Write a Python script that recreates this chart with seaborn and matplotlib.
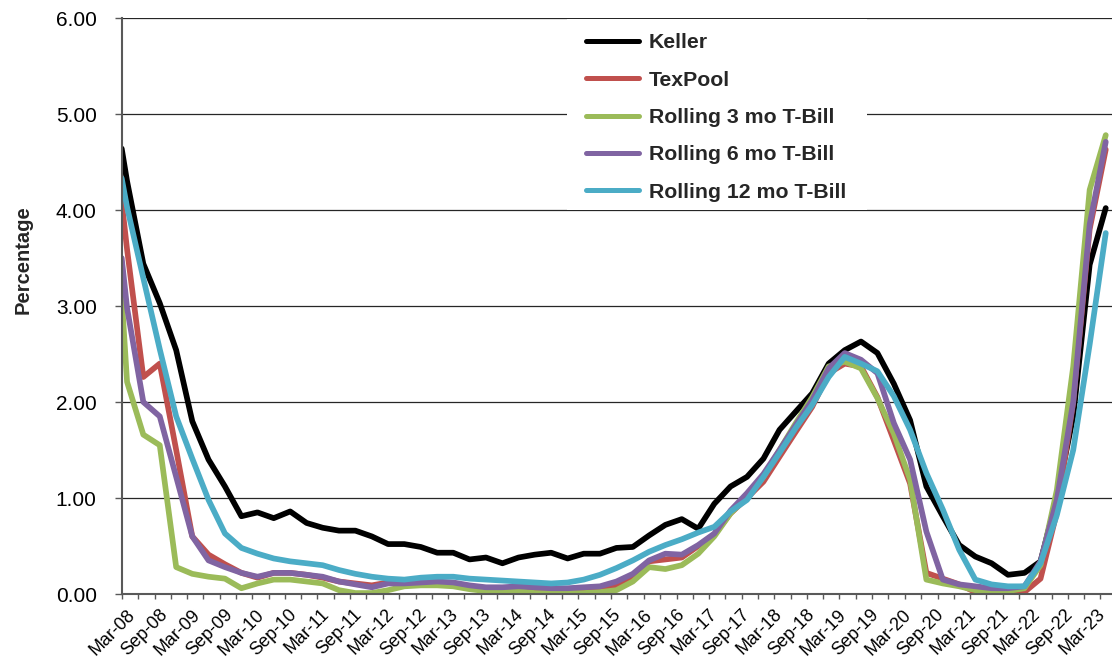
import matplotlib
matplotlib.use("Agg")
import matplotlib.pyplot as plt
import matplotlib.dates as mdates
import matplotlib.transforms as mtransforms
from matplotlib.patches import Rectangle
import numpy as np
import pandas as pd
import seaborn as sns

# Yield comparison, percent. First value is the level at the start of the axis
# (1 Mar 2008); the rest are quarter-end values, Mar-08 through Mar-23.
series_names = ["Keller", "TexPool", "Rolling 3 mo T-Bill",
                "Rolling 6 mo T-Bill", "Rolling 12 mo T-Bill"]
series_colors = ["#000000", "#C0504D", "#9BBB59", "#8064A2", "#4BACC6"]

keller = [4.64, 4.30, 3.44, 3.03, 2.54, 1.80, 1.40, 1.12, 0.81, 0.85, 0.79,
          0.86, 0.74, 0.69, 0.66, 0.66, 0.60, 0.52, 0.52, 0.49, 0.43, 0.43,
          0.36, 0.38, 0.32, 0.38, 0.41, 0.43, 0.37, 0.42, 0.42, 0.48, 0.49,
          0.61, 0.72, 0.78, 0.68, 0.94, 1.12, 1.22, 1.41, 1.71, 1.90, 2.09,
          2.40, 2.54, 2.63, 2.51, 2.19, 1.81, 1.12, 0.81, 0.51, 0.39, 0.32,
          0.20, 0.22, 0.34, 1.00, 1.85, 3.43, 4.02]
texpool = [4.09, 3.59, 2.26, 2.40, 1.50, 0.60, 0.41, 0.31, 0.22, 0.17, 0.22,
           0.22, 0.20, 0.17, 0.13, 0.11, 0.09, 0.12, 0.12, 0.12, 0.12, 0.11,
           0.08, 0.05, 0.04, 0.04, 0.02, 0.02, 0.02, 0.03, 0.04, 0.09, 0.17,
           0.34, 0.36, 0.38, 0.50, 0.62, 0.84, 1.00, 1.17, 1.43, 1.69, 1.95,
           2.30, 2.40, 2.37, 2.05, 1.60, 1.15, 0.22, 0.16, 0.10, 0.02, 0.00,
           0.01, 0.02, 0.16, 0.85, 2.00, 3.80, 4.63]
tbill_3mo = [3.10, 2.21, 1.66, 1.55, 0.28, 0.21, 0.18, 0.16, 0.06, 0.11, 0.15,
             0.15, 0.13, 0.11, 0.04, 0.01, 0.01, 0.04, 0.08, 0.09, 0.09, 0.08,
             0.05, 0.03, 0.03, 0.03, 0.01, 0.01, 0.01, 0.01, 0.02, 0.04, 0.13,
             0.28, 0.26, 0.30, 0.42, 0.60, 0.84, 1.01, 1.22, 1.50, 1.78, 2.05,
             2.37, 2.42, 2.35, 2.04, 1.67, 1.19, 0.15, 0.11, 0.08, 0.04, 0.02,
             0.03, 0.06, 0.30, 1.08, 2.37, 4.21, 4.78]
tbill_6mo = [3.50, 2.98, 2.00, 1.85, 1.22, 0.60, 0.35, 0.28, 0.22, 0.18, 0.22,
             0.22, 0.20, 0.18, 0.13, 0.10, 0.07, 0.11, 0.11, 0.12, 0.13, 0.12,
             0.09, 0.07, 0.07, 0.08, 0.07, 0.06, 0.06, 0.07, 0.08, 0.13, 0.21,
             0.35, 0.42, 0.41, 0.51, 0.63, 0.87, 1.05, 1.25, 1.50, 1.76, 2.02,
             2.35, 2.51, 2.44, 2.30, 1.78, 1.40, 0.65, 0.15, 0.10, 0.08, 0.06,
             0.06, 0.08, 0.34, 0.98, 2.00, 3.85, 4.71]
tbill_12mo = [4.33, 4.03, 3.29, 2.55, 1.85, 1.41, 0.98, 0.63, 0.48, 0.42, 0.37,
              0.34, 0.32, 0.30, 0.25, 0.21, 0.18, 0.16, 0.15, 0.17, 0.18, 0.18,
              0.16, 0.15, 0.14, 0.13, 0.12, 0.11, 0.12, 0.15, 0.20, 0.27, 0.35,
              0.44, 0.51, 0.57, 0.64, 0.70, 0.86, 0.98, 1.22, 1.47, 1.73, 1.97,
              2.26, 2.47, 2.40, 2.32, 2.06, 1.71, 1.26, 0.88, 0.46, 0.15, 0.10,
              0.08, 0.08, 0.32, 0.82, 1.50, 2.60, 3.76]

y_ticks = [0, 1, 2, 3, 4, 5, 6]

axis_start = pd.Timestamp("2008-03-01")
axis_end = pd.Timestamp("2023-05-05")
quarter_ends = list(pd.period_range("2008Q1", "2023Q1", freq="Q").end_time.normalize())
dates = [axis_start] + quarter_ends

frames = []
for name, vals in zip(series_names, [keller, texpool, tbill_3mo, tbill_6mo, tbill_12mo]):
    frames.append(pd.DataFrame({"date": dates, "value": vals, "series": name}))
df = pd.concat(frames, ignore_index=True)

sns.set_style("white")
plt.rcParams["font.family"] = ["Liberation Sans", "DejaVu Sans"]

W, H = 1112, 664
fig = plt.figure(figsize=(W / 100, H / 100), dpi=100)
ax = fig.add_axes([121.7 / W, 1 - 594 / H, 990.3 / W, 576 / H])

sns.lineplot(data=df, x="date", y="value", hue="series", hue_order=series_names,
             palette=series_colors, linewidth=4.1, estimator=None, sort=False,
             legend=False, ax=ax)
for ln in ax.lines:
    ln.set_solid_capstyle("round")
    ln.set_solid_joinstyle("round")

ax.set_xlim(axis_start, axis_end)
ax.set_ylim(0, 6)

ax.tick_params(axis="x", direction="out", length=3.8, width=1.0, color="#595959", pad=2,
               bottom=True)
ax.tick_params(axis="y", direction="out", length=5, width=1.0, color="#595959", pad=13,
               left=True)

# quarterly tick marks, labels every six months
n_ticks = 61
tick_dates = [pd.Timestamp(2008 + (2 + 3 * i) // 12, (2 + 3 * i) % 12 + 1, 1) for i in range(n_ticks)]
tick_labels = [d.strftime("%b-%y") if i % 2 == 0 else "" for i, d in enumerate(tick_dates)]
ax.set_xticks(mdates.date2num(tick_dates))
ax.set_xticklabels(tick_labels, fontsize=13, color="#000000")
ax.set_yticks(y_ticks)
ax.set_yticklabels([f"{v:.2f}" for v in y_ticks], fontsize=15, color="#000000")

for i, lbl in enumerate(ax.get_xticklabels()):
    dx = 17 - 9 * i / (n_ticks - 1)
    shift = mtransforms.ScaledTranslation(dx / 100, -4 / 100, fig.dpi_scale_trans)
    lbl.set_rotation(45)
    lbl.set_rotation_mode("default")
    lbl.set_horizontalalignment("right")
    lbl.set_verticalalignment("top")
    lbl.set_transform(lbl.get_transform() + shift)

ax.set_xlabel("")
ax.set_ylabel("Percentage", fontsize=14.5, fontweight="bold")
ax.yaxis.set_label_coords(-0.0896, (594 - 260) / 576)

for side in ["top", "right"]:
    ax.spines[side].set_visible(False)
for side in ["left", "bottom"]:
    ax.spines[side].set_color("#595959")
    ax.spines[side].set_linewidth(1.5)

ax.yaxis.grid(True, color="#262626", linewidth=0.9)
ax.xaxis.grid(False)
ax.set_axisbelow(True)

# white panel behind the legend
ax.add_patch(Rectangle((567 / W, 1 - 210 / H), 300 / W, 191 / H,
                       transform=fig.transFigure, facecolor="white",
                       edgecolor="none", zorder=1))

leg = ax.legend(ax.lines[:5], series_names, loc="upper left",
                bbox_to_anchor=(577.6 / W, 1 - 25 / H), bbox_transform=fig.transFigure,
                frameon=False, prop={"weight": "bold", "size": 15.3},
                handlelength=2.5, handletextpad=0.45, labelspacing=0.86,
                borderpad=0.4, borderaxespad=0)
for h in leg.get_lines():
    h.set_linewidth(3.6)

fig.savefig("out.png", dpi=100)
